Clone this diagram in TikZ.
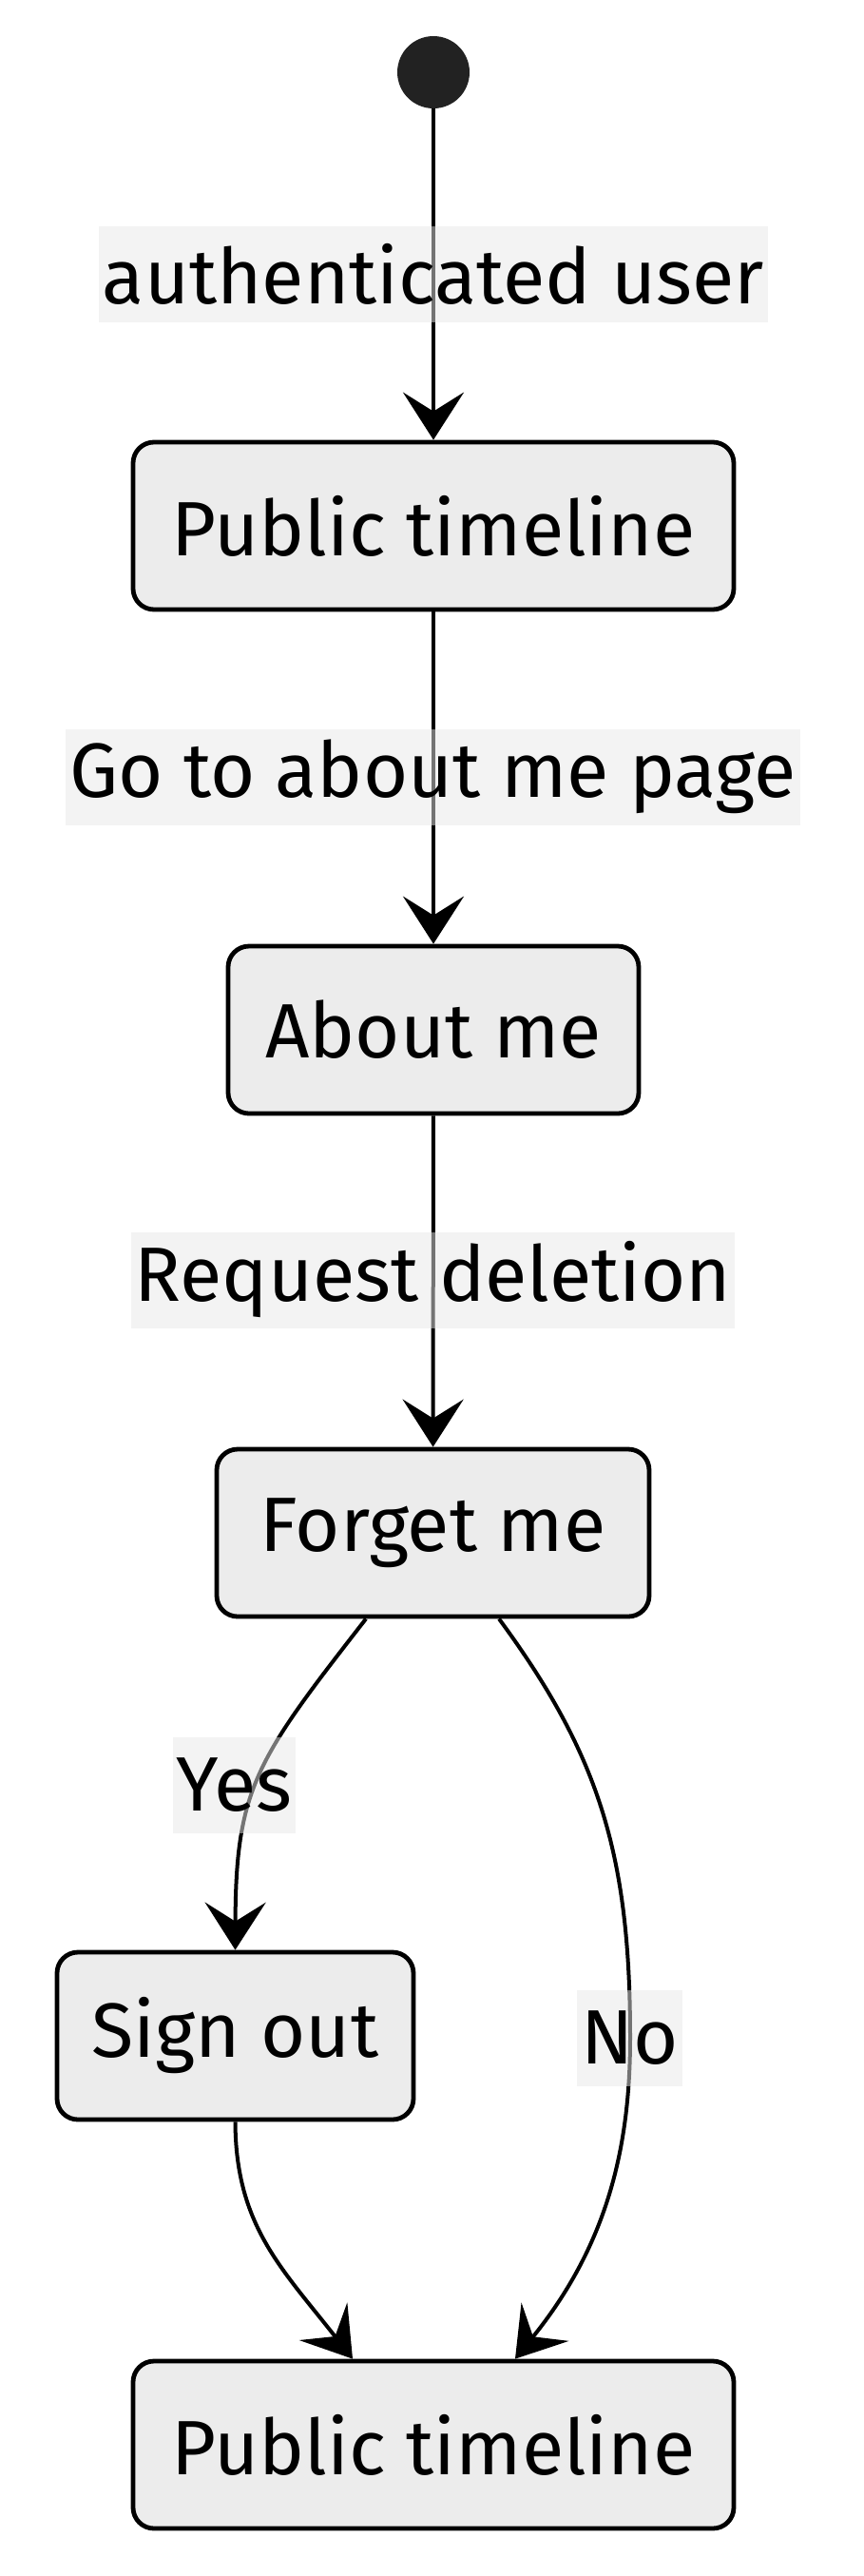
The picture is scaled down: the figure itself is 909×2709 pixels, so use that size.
\documentclass[tikz,border=0pt]{standalone}
\usepackage{fontspec}
\setmainfont{Fira Sans}
\usetikzlibrary{arrows.meta,calc}
\definecolor{boxfill}{HTML}{ECECEC}
\definecolor{lblfill}{HTML}{E8E8E8}
\definecolor{startfill}{HTML}{222222}

\begin{document}
\begin{tikzpicture}[x=0.5pt, y=-0.5pt,
			state/.style={rectangle, rounded corners=11pt, draw, line width=2.4pt, fill=boxfill, minimum height=88pt, inner sep=0pt, font=\fontsize{40.5}{48}\selectfont},
			lbl/.style={fill=lblfill, fill opacity=0.5, text opacity=1, inner xsep=2pt, inner ysep=0pt, minimum height=50.5pt, font=\fontsize{40.5}{48}\selectfont},
			edge/.style={line width=2pt, -{Stealth[length=25pt, width=32pt, inset=10pt]}}
			]
			\useasboundingbox (0,0) rectangle (909,2709);
			
			% Nodes
			\node[circle, fill=startfill, minimum size=38pt, inner sep=0pt] (start) at (456,76) {};
			\node[state, minimum width=316pt] (pub1) at (456,553) {Public timeline};
			\node[state, minimum width=216pt] (about) at (456,1083) {About me};
			\node[state, minimum width=227.5pt] (forget) at (455.5,1612) {Forget me};
			\node[state, minimum width=187.5pt] (signout) at (247.5,2141) {Sign out};
			\node[state, minimum width=316pt] (pub2) at (456,2571) {Public timeline};
			
			% Edges
			\draw[edge] (start) -- (pub1);
			\draw[edge] (pub1) -- (about);
			\draw[edge] (about) -- (forget);
			\draw[edge] ($(forget.south)+(-70.5,0)$) .. controls (270,1850) and (248,1880) .. (signout.north);
			\draw[edge] ($(forget.south)+(69.5,0)$) .. controls (630,1845) and (663,1950) .. (663,2143)
				.. controls (663,2260) and (638,2362) .. ($(pub2.north)+(86,0)$);
			\draw[edge] (signout.south) .. controls (248,2340) and (296,2385) .. ($(pub2.north)+(-85,0)$);
			
			% Edge labels
			\node[lbl] (lblauth) at (456,288.5) {authenticated user};
			\node[lbl] (lblgo) at (455.5,817) {Go to about me page};
			\node[lbl] (lblreq) at (455.5,1346) {Request deletion};
			\node[lbl] (lblyes) at (246.5,1877) {Yes};
			\node[lbl] (lblno) at (662.5,2143) {No};
			
		\end{tikzpicture}
\end{document}
